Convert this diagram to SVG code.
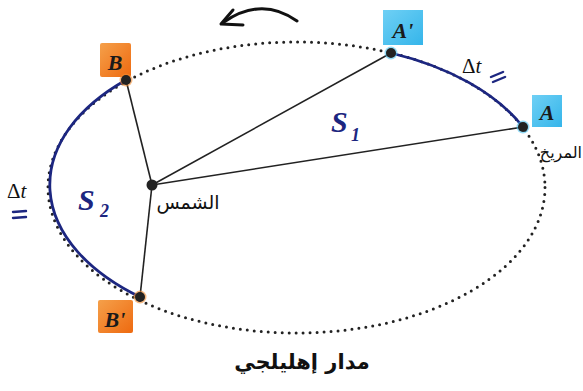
<svg xmlns="http://www.w3.org/2000/svg" width="583" height="391" viewBox="0 0 583 391">
<defs>
<linearGradient id="og" x1="0" y1="0" x2="1" y2="1"><stop offset="0" stop-color="#f5a04a"/><stop offset="1" stop-color="#ee6a10"/></linearGradient>
<linearGradient id="bg" x1="0" y1="0" x2="1" y2="1"><stop offset="0" stop-color="#6fd0f5"/><stop offset="1" stop-color="#35b5ea"/></linearGradient>
</defs>
<style>
.orbit{fill:none;stroke:#222;stroke-width:3;stroke-dasharray:0 7;stroke-linecap:round}
.arc{fill:none;stroke:#1c2680;stroke-width:2.8;stroke-linecap:round}
.ray{stroke:#222;stroke-width:1.6;fill:none}
.pt{fill:#222}
.lbl{font-family:"Liberation Serif",serif;font-style:italic;font-weight:bold;font-size:22px;fill:#1a1a1a}
.sym{font-family:"Liberation Serif",serif;font-style:italic;font-weight:bold;fill:#1c2680}
.dt{font-family:"Liberation Serif",serif;font-size:21px;fill:#111}
.ar{font-family:"DejaVu Sans",sans-serif;fill:#111}
.eq{stroke:#1c2680;stroke-width:2.4;stroke-linecap:round}
</style>
<g id="orbit">
<ellipse class="orbit" cx="296.5" cy="187.5" rx="248.5" ry="145.5"/>
</g>
<g id="connectors">
<path class="arc" d="M391 53 A248.5 145.5 0 0 1 523 127"/>
<path class="arc" d="M126 80 A248.5 145.5 0 0 0 140 297"/>
<line class="ray" x1="152" y1="185" x2="126" y2="80"/>
<line class="ray" x1="152" y1="185" x2="140" y2="297"/>
<line class="ray" x1="152" y1="185" x2="391" y2="53"/>
<line class="ray" x1="152" y1="185" x2="523" y2="127"/>
<path d="M297 21 Q262 -4 224 22" fill="none" stroke="#111" stroke-width="3" stroke-linecap="round"/>
<path d="M233 10 L221 24 L243 25" fill="none" stroke="#111" stroke-width="3" stroke-linecap="round" stroke-linejoin="round"/>
</g>
<g id="sun">
<circle class="pt" cx="152" cy="185" r="5.5"/>
<text class="ar" x="188" y="209" font-size="19" text-anchor="middle">الشمس</text>
</g>
<g id="B">
<rect x="100" y="43" width="31" height="34" fill="url(#og)" rx="2"/>
<text class="lbl" x="115" y="70" text-anchor="middle">B</text>
<circle cx="126" cy="80" r="6.5" fill="#f08a30" opacity="0.6"/>
<circle class="pt" cx="126" cy="80" r="5"/>
</g>
<g id="Bp">
<rect x="98" y="300" width="35" height="33" fill="url(#og)" rx="2"/>
<text class="lbl" x="115" y="327" text-anchor="middle">B'</text>
<circle cx="140" cy="297" r="6.5" fill="#f08a30" opacity="0.6"/>
<circle class="pt" cx="140" cy="297" r="5"/>
</g>
<g id="Ap">
<rect x="383" y="10" width="40" height="35" fill="url(#bg)"/>
<text class="lbl" x="403" y="38" text-anchor="middle">A'</text>
<circle cx="391" cy="53" r="6.5" fill="#4fc3f0" opacity="0.6"/>
<circle class="pt" cx="391" cy="53" r="5"/>
</g>
<g id="A">
<rect x="532" y="95" width="30" height="32" fill="url(#bg)"/>
<text class="lbl" x="547" y="120" text-anchor="middle">A</text>
<circle cx="523" cy="127" r="6.5" fill="#4fc3f0" opacity="0.6"/>
<circle class="pt" cx="523" cy="127" r="5"/>
<text class="ar" x="582" y="158" font-size="16" text-anchor="end">المريخ</text>
</g>
<g id="S1">
<text class="sym" x="331" y="132" font-size="30">S</text>
<text class="sym" x="351" y="141" font-size="18">1</text>
</g>
<g id="S2">
<text class="sym" x="78" y="210" font-size="30">S</text>
<text class="sym" x="100" y="217" font-size="18">2</text>
</g>
<g id="dt1">
<text class="dt" x="462" y="73">Δ<tspan font-style="italic">t</tspan></text>
<line class="eq" x1="491" y1="77" x2="503" y2="72"/>
<line class="eq" x1="493" y1="82" x2="505" y2="77"/>
</g>
<g id="dt2">
<text class="dt" x="7" y="198">Δ<tspan font-style="italic">t</tspan></text>
<line class="eq" x1="13" y1="212" x2="26" y2="211"/>
<line class="eq" x1="13" y1="218" x2="26" y2="217"/>
</g>
<g id="label">
<text class="ar" x="302" y="369" font-size="21" font-weight="bold" text-anchor="middle">مدار إهليلجي</text>
</g>
</svg>
